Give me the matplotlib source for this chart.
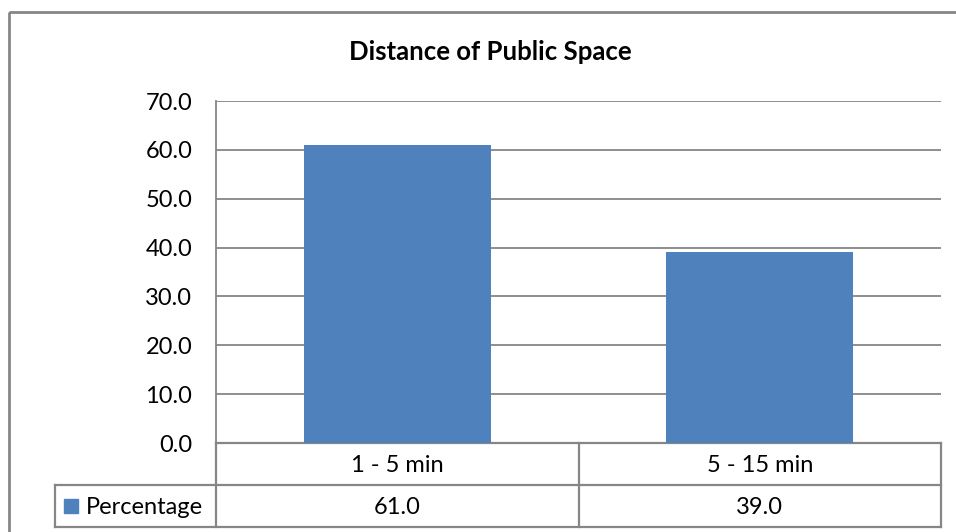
import matplotlib
matplotlib.use("Agg")
import matplotlib.pyplot as plt
from matplotlib.transforms import blended_transform_factory
from matplotlib.patches import Rectangle

# Data
title = "Distance of Public Space"
categories = ["1 - 5 min", "5 - 15 min"]
series_name = "Percentage"
values = [61.0, 39.0]
y_ticks = [0, 10, 20, 30, 40, 50, 60, 70]

W, H = 956, 532
bar_color = "#4F81BD"
line_color = "#868686"
font = ["Lato", "DejaVu Sans"]
fs = 17

fig = plt.figure(figsize=(W / 100, H / 100), dpi=100)
fig.patch.set_facecolor("white")

# Overlay axes in pixel coordinates for border and data table
ov = fig.add_axes([0, 0, 1, 1])
ov.set_xlim(0, W)
ov.set_ylim(H, 0)
ov.axis("off")

# Plot area
left, right, top, bottom = 216, 941, 101, 443
ax = fig.add_axes([left / W, 1 - bottom / H, (right - left) / W, (bottom - top) / H])
x = list(range(len(categories)))
ax.bar(x, values, width=0.515, color=bar_color, zorder=3)
ax.set_xlim(-0.5, len(categories) - 0.5)
ax.set_ylim(0, 70)
ax.set_yticks(y_ticks)
ax.set_yticklabels([f"{v:.1f}" for v in y_ticks], fontfamily=font, fontsize=fs)
ax.tick_params(axis="y", length=0, pad=17)
ax.set_xticks([])
ax.grid(axis="y", color=line_color, linewidth=1.3, zorder=0)
for s in ["top", "right", "bottom"]:
    ax.spines[s].set_visible(False)
ax.spines["left"].set_color(line_color)
ax.spines["left"].set_linewidth(1.3)
ax.set_facecolor("none")

# Outer chart border
ov.add_patch(Rectangle((9.5, 11.5), W + 20, H + 20, fill=False,
                       edgecolor=line_color, linewidth=2.0))

# Title
ov.text(490, 52, title, ha="center", va="center", fontfamily=font,
        fontweight="bold", fontsize=18.5, color="black")

# Data table
tr = blended_transform_factory(ax.transData, ov.transData)
row1_top, row_mid, row2_bot = 443, 485, 527
lw = 1.6
# horizontal lines
ov.plot([-0.5, len(categories) - 0.5], [row1_top, row1_top], color=line_color, lw=lw, transform=tr)
ov.plot([55, right], [row_mid, row_mid], color=line_color, lw=lw)
ov.plot([55, right], [row2_bot, row2_bot], color=line_color, lw=lw)
# vertical lines
for b in [i - 0.5 for i in range(len(categories) + 1)]:
    ov.plot([b, b], [row1_top, row2_bot], color=line_color, lw=lw, transform=tr)
ov.plot([55, 55], [row_mid, row2_bot], color=line_color, lw=lw)

for i, (c, v) in enumerate(zip(categories, values)):
    ov.text(i, (row1_top + row_mid) / 2 + 1, c, transform=tr, ha="center", va="center",
            fontfamily=font, fontsize=fs)
    ov.text(i, (row_mid + row2_bot) / 2 + 1, f"{v:.1f}", transform=tr, ha="center",
            va="center", fontfamily=font, fontsize=fs)

# Legend key in table
ov.add_patch(Rectangle((64, 499), 14, 14, color=bar_color))
ov.text(86, (row_mid + row2_bot) / 2 + 1, series_name, ha="left", va="center",
        fontfamily=font, fontsize=fs)

fig.savefig("out.png", dpi=100)
